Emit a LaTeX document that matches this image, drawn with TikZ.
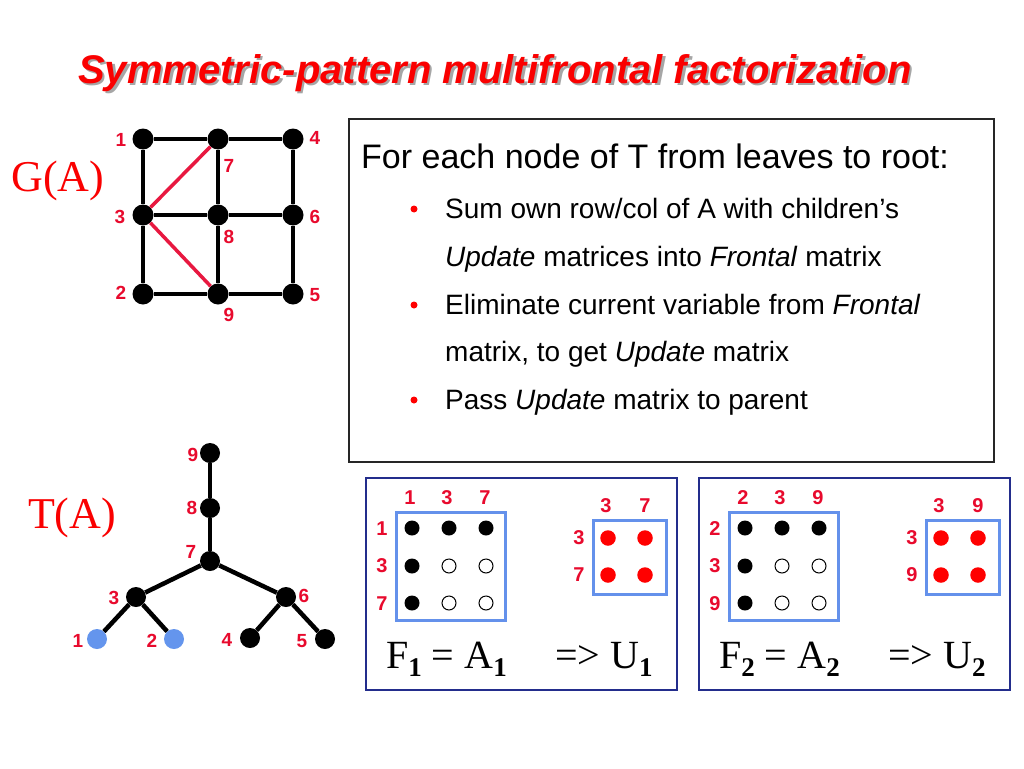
\documentclass[tikz,border=0pt]{standalone}
\usepackage{fontspec}
\setmainfont{Liberation Sans}
\newfontfamily\serifface{Liberation Serif}
\definecolor{labred}{RGB}{232,10,45}
\definecolor{edgered}{RGB}{232,24,64}
\definecolor{titlered}{RGB}{250,0,0}
\definecolor{matblue}{RGB}{100,145,235}
\definecolor{panelblue}{RGB}{35,45,140}
\definecolor{treeblue}{RGB}{100,149,237}
\newcommand{\sbold}[1]{\raisebox{-0.22em}{\fontsize{27}{27}\selectfont\bfseries #1}}
\newcommand{\shadowed}[1]{\makebox[0pt][l]{\hspace{2.5pt}\raisebox{-2.5pt}{\color{black!35}#1}}#1}
\newcommand{\frontpanel}[6]{%
\begin{scope}[xshift=#1]
\node[panel] (#2box) at (521.5,584) {};
\node[matrect, minimum width=109pt, minimum height=108pt] (#2F) at (450.5,566) {};
\node[matrect, minimum width=73pt, minimum height=74pt] (#2U) at (629.5,557) {};
\node[mlbl] (#2c1) at (410,498) {#3};
\node[mlbl] (#2c2) at (447,498) {#4};
\node[mlbl] (#2c3) at (485,498) {#5};
\node[mlbl] (#2r1) at (382,529) {#3};
\node[mlbl] (#2r2) at (382,566) {#4};
\node[mlbl] (#2r3) at (382,604) {#5};
\node[dotb] (#2a11) at (412,528) {};
\node[dotb] (#2a12) at (449,528) {};
\node[dotb] (#2a13) at (486,528) {};
\node[dotb] (#2a21) at (412,566) {};
\node[doto] (#2a22) at (449,566) {};
\node[doto] (#2a23) at (486,566) {};
\node[dotb] (#2a31) at (412,603) {};
\node[doto] (#2a32) at (449,603) {};
\node[doto] (#2a33) at (486,603) {};
\node[mlbl] (#2uc1) at (606,506) {#4};
\node[mlbl] (#2uc2) at (645,506) {#5};
\node[mlbl] (#2ur1) at (579,538) {#4};
\node[mlbl] (#2ur2) at (579,575) {#5};
\node[dotr] (#2u11) at (608,538) {};
\node[dotr] (#2u12) at (645,538) {};
\node[dotr] (#2u21) at (608,575) {};
\node[dotr] (#2u22) at (645,575) {};
\node[eqtext] (#2eq) at (386,668) {F\sbold{#6} = A\sbold{#6}};
\node[eqtext] (#2res) at (555,668) {=> U\sbold{#6}};
\end{scope}}
\begin{document}
\begin{tikzpicture}[x=1pt,y=-1pt,
  gnode/.style={circle, fill=black, minimum size=21pt, inner sep=0pt},
  tnode/.style={circle, fill=black, minimum size=20pt, inner sep=0pt},
  bnode/.style={circle, fill=treeblue, minimum size=20pt, inner sep=0pt},
  lbl/.style={text=labred, font=\fontsize{19}{19}\selectfont\bfseries, inner sep=0pt},
  mlbl/.style={text=labred, font=\fontsize{20}{20}\selectfont\bfseries, inner sep=0pt},
  bigname/.style={text=titlered, font=\serifface\fontsize{44}{44}\selectfont, inner sep=0pt},
  edge/.style={line width=4.5pt},
  redge/.style={line width=3.5pt, draw=edgered},
  dotb/.style={circle, fill=black, minimum size=15pt, inner sep=0pt},
  doto/.style={circle, draw=black, line width=1pt, minimum size=14pt, inner sep=0pt},
  dotr/.style={circle, fill=red, minimum size=15.5pt, inner sep=0pt},
  matrect/.style={draw=matblue, line width=3pt, inner sep=0pt},
  panel/.style={draw=panelblue, line width=1.5pt, minimum width=311pt, minimum height=212pt, inner sep=0pt},
  eqtext/.style={anchor=base west, inner sep=0pt, font=\serifface\fontsize{40}{40}\selectfont},
  bodytext/.style={anchor=base west, inner sep=0pt, font=\fontsize{28}{28}\selectfont},
  bullet/.style={circle, fill=red, minimum size=7pt, inner sep=0pt}
]
\useasboundingbox (0,0) rectangle (1024,768);
\fill[white] (0,0) rectangle (1024,768);

% title
\node[anchor=base, inner sep=0pt, text=titlered, font=\fontsize{40}{40}\selectfont\bfseries\itshape] (title) at (495,83) {\shadowed{Symmetric-pattern multifrontal factorization}};

% G(A)
\node[bigname] (GA) at (58,181) {G(A)};
\node[gnode] (g1) at (143,139) {};
\node[gnode] (g7) at (218,139) {};
\node[gnode] (g4) at (293,139) {};
\node[gnode] (g3) at (143,215) {};
\node[gnode] (g8) at (218,215) {};
\node[gnode] (g6) at (293,215) {};
\node[gnode] (g2) at (143,294) {};
\node[gnode] (g9) at (218,294) {};
\node[gnode] (g5) at (293,294) {};
\draw[edge] (g1) -- (g7); \draw[edge] (g7) -- (g4);
\draw[edge] (g3) -- (g8); \draw[edge] (g8) -- (g6);
\draw[edge] (g2) -- (g9); \draw[edge] (g9) -- (g5);
\draw[edge] (g1) -- (g3); \draw[edge] (g3) -- (g2);
\draw[edge] (g7) -- (g8); \draw[edge] (g8) -- (g9);
\draw[edge] (g4) -- (g6); \draw[edge] (g6) -- (g5);
\draw[redge] (g3) -- (g7);
\draw[redge] (g3) -- (g9);
\node[lbl] (lg1) at (121,140) {1};
\node[lbl] (lg4) at (315,138) {4};
\node[lbl] (lg7) at (229,166) {7};
\node[lbl] (lg3) at (120,217) {3};
\node[lbl] (lg8) at (229,237) {8};
\node[lbl] (lg6) at (315,217) {6};
\node[lbl] (lg2) at (121,293) {2};
\node[lbl] (lg9) at (229,315) {9};
\node[lbl] (lg5) at (315,295) {5};

% T(A)
\node[bigname] (TA) at (72,518) {T(A)};
\node[tnode] (t9) at (210,453) {};
\node[tnode] (t8) at (210,508) {};
\node[tnode] (t7) at (210,561) {};
\node[tnode] (t3) at (136,597) {};
\node[tnode] (t6) at (286,597) {};
\node[bnode] (t1) at (97,639) {};
\node[bnode] (t2) at (174,639) {};
\node[tnode] (t4) at (250,638) {};
\node[tnode] (t5) at (325,639) {};
\draw[edge] (t9) -- (t8);
\draw[edge] (t8) -- (t7);
\draw[edge] (t7) -- (t3);
\draw[edge] (t7) -- (t6);
\draw[edge] (t3) -- (t1);
\draw[edge] (t3) -- (t2);
\draw[edge] (t6) -- (t4);
\draw[edge] (t6) -- (t5);
\node[lbl] (lt9) at (193,455) {9};
\node[lbl] (lt8) at (192,508) {8};
\node[lbl] (lt7) at (191,552) {7};
\node[lbl] (lt3) at (114,598) {3};
\node[lbl] (lt6) at (304,596) {6};
\node[lbl] (lt1) at (78,641) {1};
\node[lbl] (lt2) at (152,641) {2};
\node[lbl] (lt4) at (227,640) {4};
\node[lbl] (lt5) at (302,641) {5};

% text box
\node[draw=black!85, line width=1.3pt, minimum width=645pt, minimum height=343pt, inner sep=0pt] (textbox) at (671.5,290.5) {};
\node[anchor=base west, inner sep=0pt, font=\fontsize{34}{34}\selectfont] (head) at (361,168) {For each node of T from leaves to root:};
\node[bullet] (b1) at (414,209) {};
\node[bodytext] (l1) at (445,218) {Sum own row/col of A with children’s};
\node[bodytext] (l2) at (445,266) {\textit{Update} matrices into \textit{Frontal} matrix};
\node[bullet] (b2) at (414,305) {};
\node[bodytext] (l3) at (445,314) {Eliminate current variable from \textit{Frontal}};
\node[bodytext] (l4) at (445,361) {matrix, to get \textit{Update} matrix};
\node[bullet] (b3) at (414,400) {};
\node[bodytext] (l5) at (445,409) {Pass \textit{Update} matrix to parent};

% panels
\frontpanel{0pt}{p}{1}{3}{7}{1}
\frontpanel{333pt}{q}{2}{3}{9}{2}
\end{tikzpicture}
\end{document}
